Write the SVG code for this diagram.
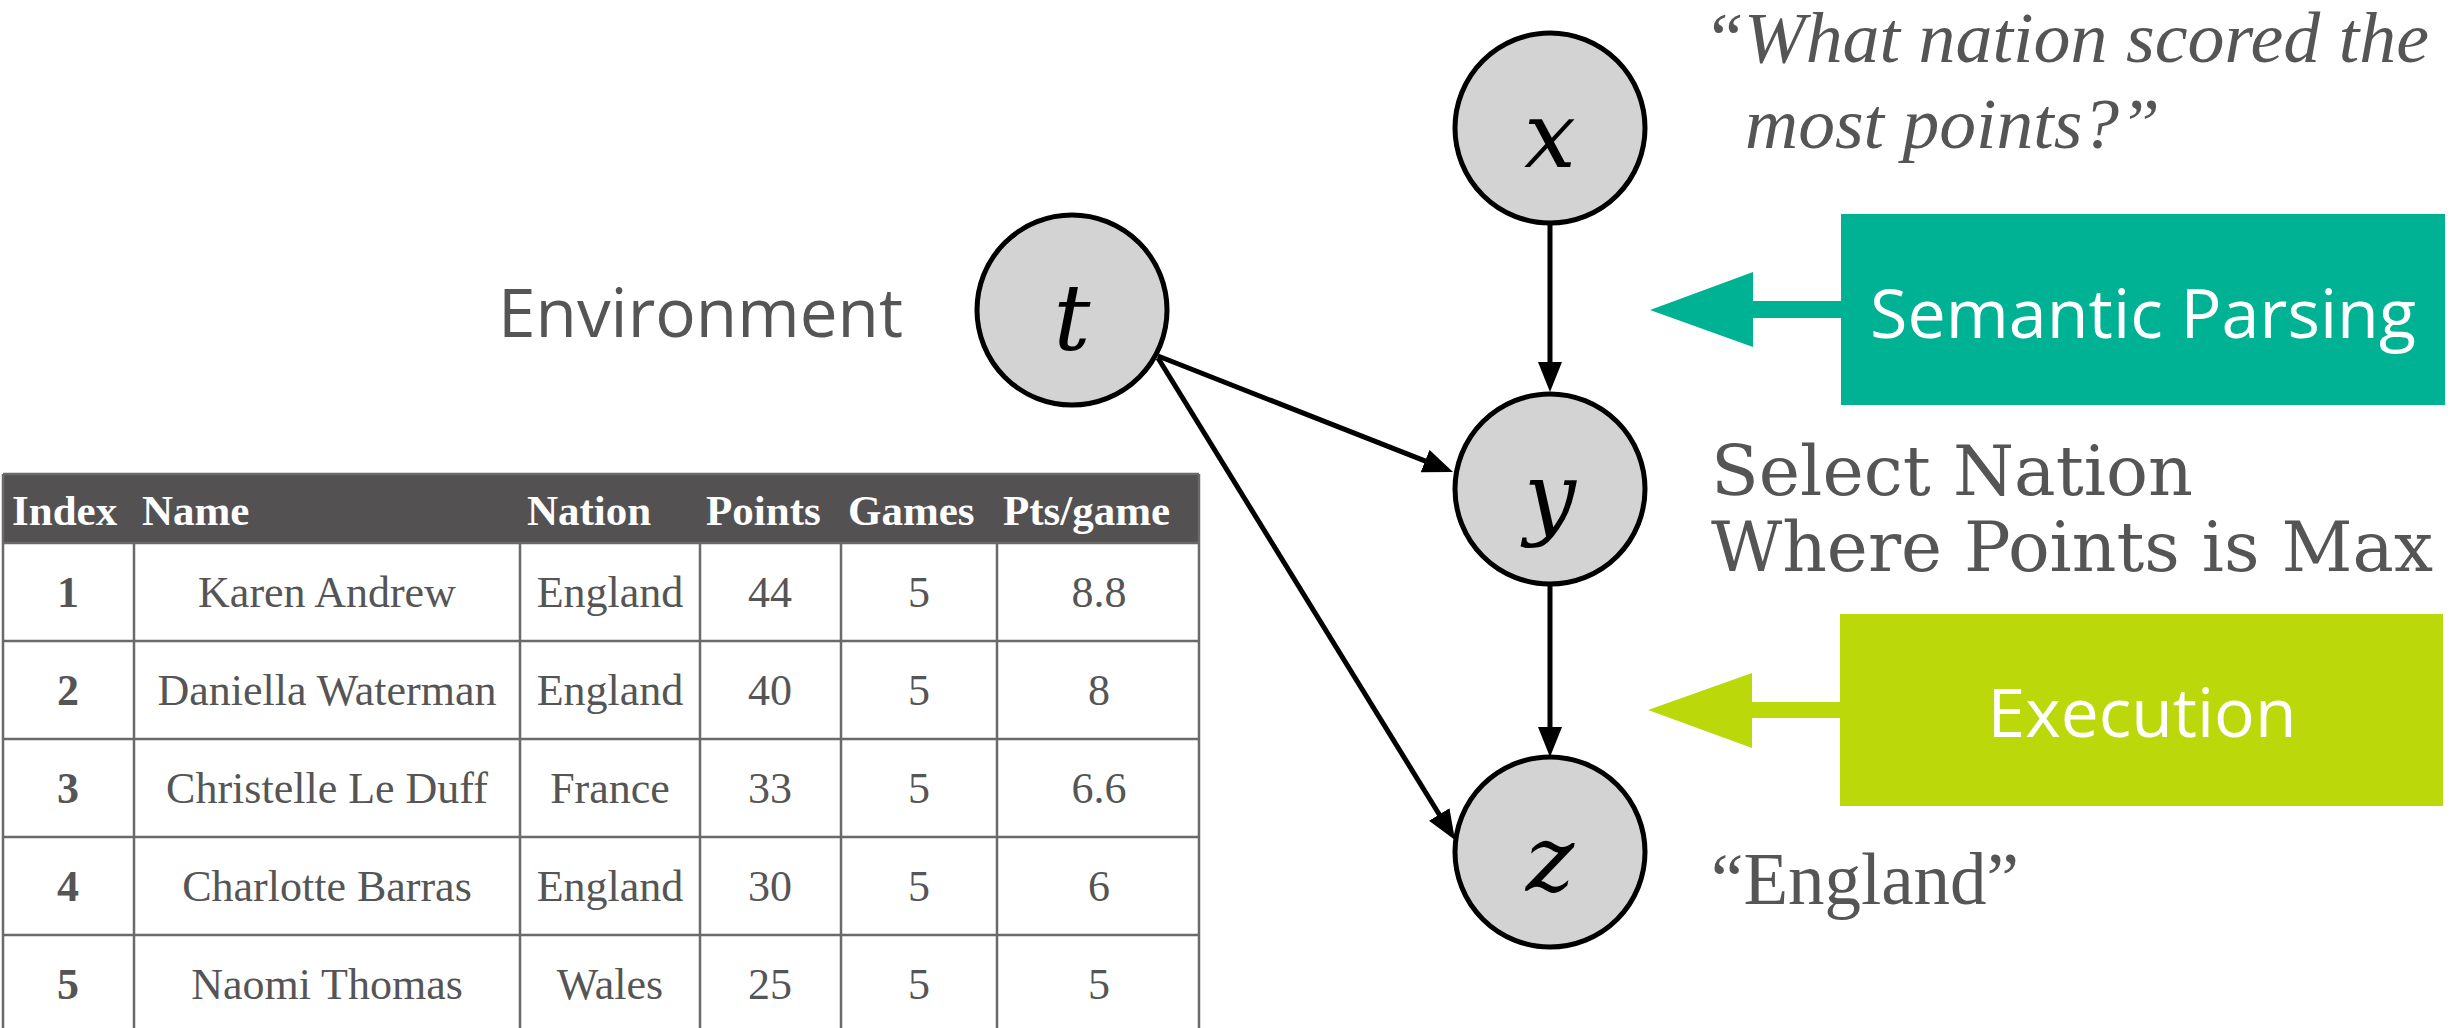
<svg xmlns="http://www.w3.org/2000/svg" width="2454" height="1028" viewBox="0 0 2454 1028">
<style>
.node{fill:#d3d3d3;stroke:#000;stroke-width:5}
.lbl{font-family:"DejaVu Serif",serif;font-style:italic;font-size:92px;fill:#000;text-anchor:middle}
.edge{stroke:#000;stroke-width:5;fill:none}
.grid{stroke:#6a6a6a;stroke-width:2.5}
.th{font-family:"Liberation Serif","Times New Roman",serif;font-weight:bold;font-size:43px;fill:#fff}
.td{font-family:"Liberation Serif","Times New Roman",serif;font-size:44px;fill:#555;text-anchor:middle}
.tdb{font-weight:bold}
.sans{font-family:"Open Sans","Noto Sans",sans-serif;font-size:68px}
.gray{fill:#555}
.slab{font-family:"DejaVu Serif",serif;font-size:70px;fill:#555}
.quote{font-family:"Liberation Serif","Times New Roman",serif;font-style:italic;font-size:72px;fill:#555}
.plain{font-family:"Liberation Serif","Times New Roman",serif;font-size:73px;fill:#555}
</style>
<defs>
<marker id="ah" markerUnits="userSpaceOnUse" markerWidth="30" markerHeight="24" refX="10" refY="12" orient="auto">
<path d="M0,0 L30,12 L0,24 z" fill="#000"/>
</marker>
</defs>
<rect width="2454" height="1028" fill="#fff"/>

<g id="table">
<rect x="3" y="474" width="1196" height="69" fill="#545152"/>
<line class="grid" x1="3" y1="474" x2="1199" y2="474" stroke="#9a9a9a"/>
<g class="grid">
<line x1="3" y1="474" x2="3" y2="1028"/>
<line x1="1199" y1="474" x2="1199" y2="1028"/>
<line x1="134" y1="543" x2="134" y2="1028"/>
<line x1="520" y1="543" x2="520" y2="1028"/>
<line x1="700" y1="543" x2="700" y2="1028"/>
<line x1="841" y1="543" x2="841" y2="1028"/>
<line x1="997" y1="543" x2="997" y2="1028"/>
<line x1="3" y1="543" x2="1199" y2="543"/>
<line x1="3" y1="641" x2="1199" y2="641"/>
<line x1="3" y1="739" x2="1199" y2="739"/>
<line x1="3" y1="837" x2="1199" y2="837"/>
<line x1="3" y1="935" x2="1199" y2="935"/>
</g>
<text class="th" x="12" y="525">Index</text>
<text class="th" x="142" y="525">Name</text>
<text class="th" x="527" y="525">Nation</text>
<text class="th" x="706" y="525">Points</text>
<text class="th" x="848" y="525">Games</text>
<text class="th" x="1003" y="525">Pts/game</text>

<text class="td tdb" x="68" y="607">1</text>
<text class="td" x="327" y="607">Karen Andrew</text>
<text class="td" x="610" y="607">England</text>
<text class="td" x="770" y="607">44</text>
<text class="td" x="919" y="607">5</text>
<text class="td" x="1099" y="607">8.8</text>

<text class="td tdb" x="68" y="705">2</text>
<text class="td" x="327" y="705">Daniella Waterman</text>
<text class="td" x="610" y="705">England</text>
<text class="td" x="770" y="705">40</text>
<text class="td" x="919" y="705">5</text>
<text class="td" x="1099" y="705">8</text>

<text class="td tdb" x="68" y="803">3</text>
<text class="td" x="327" y="803">Christelle Le Duff</text>
<text class="td" x="610" y="803">France</text>
<text class="td" x="770" y="803">33</text>
<text class="td" x="919" y="803">5</text>
<text class="td" x="1099" y="803">6.6</text>

<text class="td tdb" x="68" y="901">4</text>
<text class="td" x="327" y="901">Charlotte Barras</text>
<text class="td" x="610" y="901">England</text>
<text class="td" x="770" y="901">30</text>
<text class="td" x="919" y="901">5</text>
<text class="td" x="1099" y="901">6</text>

<text class="td tdb" x="68" y="999">5</text>
<text class="td" x="327" y="999">Naomi Thomas</text>
<text class="td" x="610" y="999">Wales</text>
<text class="td" x="770" y="999">25</text>
<text class="td" x="919" y="999">5</text>
<text class="td" x="1099" y="999">5</text>
</g>

<g id="connectors">
<line class="edge" x1="1550" y1="224" x2="1550" y2="372" marker-end="url(#ah)"/>
<line class="edge" x1="1550" y1="585" x2="1550" y2="737" marker-end="url(#ah)"/>
<line class="edge" x1="1158" y1="356" x2="1434.4" y2="464.7" marker-end="url(#ah)"/>
<line class="edge" x1="1158" y1="358" x2="1444.5" y2="823" marker-end="url(#ah)"/>
</g>

<g id="node-x">
<circle class="node" cx="1550" cy="128" r="95"/>
<text class="lbl" x="1550" y="167">x</text>
</g>
<g id="node-t">
<circle class="node" cx="1072" cy="310" r="95"/>
<text class="lbl" x="1072" y="350">t</text>
</g>
<g id="node-y">
<circle class="node" cx="1550" cy="489" r="95"/>
<text class="lbl" x="1550" y="528">y</text>
</g>
<g id="node-z">
<circle class="node" cx="1550" cy="852" r="95"/>
<text class="lbl" x="1550" y="891">z</text>
</g>

<g id="label-environment">
<text class="sans gray" x="498" y="337" textLength="405" lengthAdjust="spacingAndGlyphs">Environment</text>
</g>

<g id="label-question">
<text class="quote" x="1703" y="62" textLength="726" lengthAdjust="spacingAndGlyphs">“What nation scored the</text>
<text class="quote" x="1745" y="148" textLength="415" lengthAdjust="spacingAndGlyphs">most points?”</text>
</g>

<g id="label-query">
<text class="slab" x="1711" y="495" textLength="482" lengthAdjust="spacingAndGlyphs">Select Nation</text>
<text class="slab" x="1711" y="571" textLength="722" lengthAdjust="spacingAndGlyphs">Where Points is Max</text>
</g>

<g id="label-answer">
<text class="plain" x="1711" y="904" textLength="308" lengthAdjust="spacingAndGlyphs">“England”</text>
</g>

<g id="semantic-parsing">
<polygon points="1650,310 1753,272 1753,301 1842,301 1842,318 1753,318 1753,347" fill="#00b294"/>
<rect x="1841" y="214" width="604" height="191" fill="#00b294"/>
<text class="sans" x="2143" y="338" fill="#fff" text-anchor="middle" textLength="546" lengthAdjust="spacingAndGlyphs">Semantic Parsing</text>
</g>

<g id="execution">
<polygon points="1648,710 1752,673 1752,702 1841,702 1841,718 1752,718 1752,748" fill="#bad80a"/>
<rect x="1840" y="614" width="603" height="192" fill="#bad80a"/>
<text class="sans" x="2142" y="737" fill="#fff" text-anchor="middle" textLength="309" lengthAdjust="spacingAndGlyphs">Execution</text>
</g>
</svg>
